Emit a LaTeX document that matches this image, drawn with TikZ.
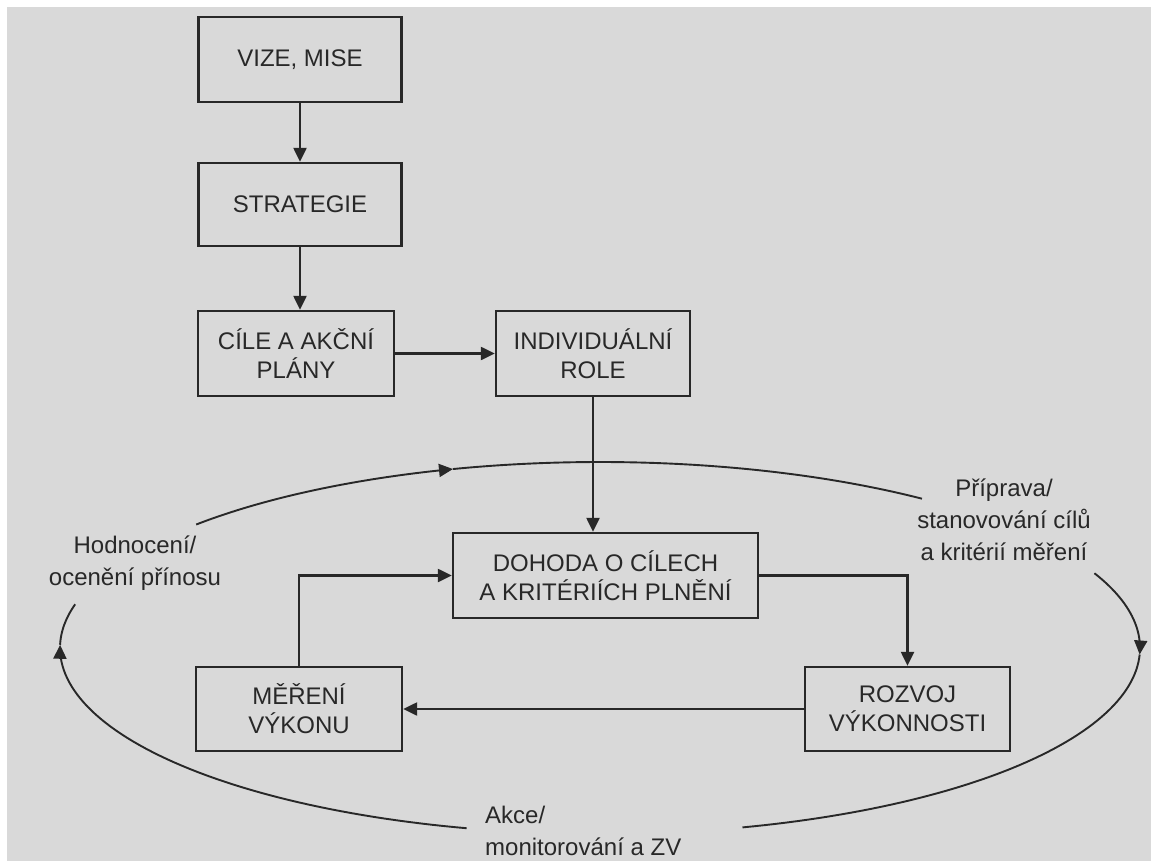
\documentclass[tikz,border=0pt]{standalone}
\usepackage{fontspec}
\setmainfont{Liberation Sans}
\usetikzlibrary{arrows.meta}
\definecolor{bg}{RGB}{217,217,217}
\definecolor{ink}{RGB}{40,40,40}
\begin{document}
\begin{tikzpicture}[x=1pt,y=-1pt,
  box/.style={draw=ink, line width=2.3pt, inner sep=0pt, align=center,
    font=\fontsize{24}{29}\selectfont, text=ink},
  conn/.style={draw=ink, line width=2.2pt, -{Triangle[length=14pt,width=13pt]}},
  loopline/.style={draw=ink, line width=1.9pt},
  looparrow/.style={draw=ink, line width=1.9pt, -{Triangle[length=14pt,width=13pt]}},
  lbl/.style={align=center, inner sep=0pt, font=\fontsize{24}{32}\selectfont, text=ink}]
\useasboundingbox (0,0) rectangle (1151,861);
\fill[white] (0,0) rectangle (1151,861);
\fill[bg] (7,7) rectangle (1151,861);

% boxes
\node[box, minimum width=203pt, minimum height=85pt] (vize) at (300,59.5) {VIZE, MISE};
\node[box, minimum width=203pt, minimum height=83pt] (strat) at (300,204.5) {STRATEGIE};
\node[box, minimum width=196pt, minimum height=85pt] (cile) at (296,353.5) {CÍLE A AKČNÍ\\PLÁNY};
\node[box, minimum width=194pt, minimum height=85pt] (indiv) at (593,353.5) {INDIVIDUÁLNÍ\\ROLE};
\node[box, minimum width=305pt, minimum height=85pt] (dohoda) at (605.5,575.5) {DOHODA O CÍLECH\\A KRITÉRIÍCH PLNĚNÍ};
\node[box, minimum width=206pt, minimum height=84pt] (mereni) at (299,709) {MĚŘENÍ\\VÝKONU};
\node[box, minimum width=205pt, minimum height=84pt] (rozvoj) at (907.5,709) {ROZVOJ\\VÝKONNOSTI};

% connectors
\draw[conn] (vize) -- (strat);
\draw[conn] (strat.south) -- (strat.south |- cile.north);
\draw[conn] (cile) -- (indiv);
\draw[conn] (indiv.south) -- (indiv.south |- dohoda.north);
\draw[conn] (dohoda.east) -| (rozvoj.north);
\draw[conn] (rozvoj.west) -- (mereni.east);
\draw[conn] (mereni.north) |- (dohoda.west);

% outer cycle
\draw[looparrow] plot[domain=-138.4:-105.8, samples=40] ({600+540*cos(\x)},{648+186*sin(\x)});
\draw[loopline] plot[domain=-105.8:-53.4, samples=60] ({600+540*cos(\x)},{648+186*sin(\x)});
\draw[looparrow] plot[domain=-23.7:2, samples=40] ({600+540*cos(\x)},{648+186*sin(\x)});
\draw[loopline] plot[domain=2:74.7, samples=60] ({600+540*cos(\x)},{648+186*sin(\x)});
\draw[looparrow] plot[domain=104.3:181, samples=60] ({600+540*cos(\x)},{648+186*sin(\x)});
\draw[loopline] plot[domain=181:193.6, samples=20] ({600+540*cos(\x)},{648+186*sin(\x)});

% labels
\node[lbl] (hod) at (135,563) {Hodnocení/\\ocenění přínosu};
\node[lbl] (pri) at (1004,520) {Příprava/\\stanovování cílů\\a kritérií měření};
\node[lbl, align=left, anchor=west] (akce) at (485,831) {Akce/\\monitorování a ZV};
\end{tikzpicture}
\end{document}
